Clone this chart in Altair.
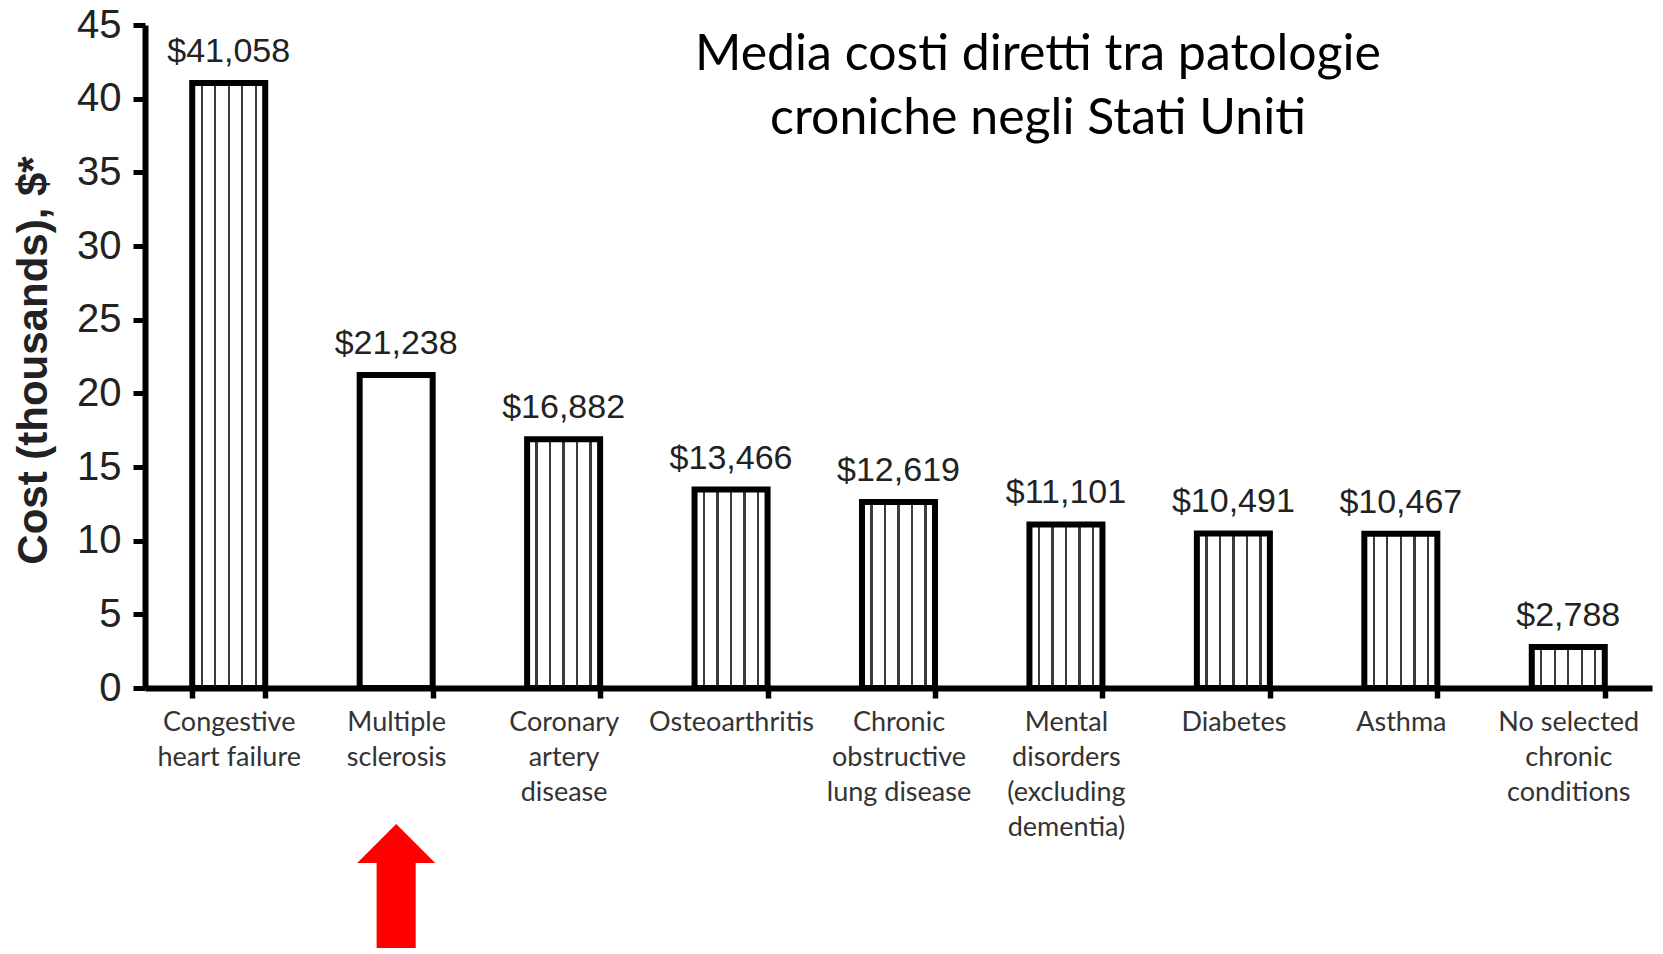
import altair as alt
import pandas as pd

# ---- data ----
categories = [
    "Congestive|heart failure",
    "Multiple|sclerosis",
    "Coronary|artery|disease",
    "Osteoarthritis",
    "Chronic|obstructive|lung disease",
    "Mental|disorders|(excluding|dementia)",
    "Diabetes",
    "Asthma",
    "No selected|chronic|conditions",
]
costs = [41058, 21238, 16882, 13466, 12619, 11101, 10491, 10467, 2788]
highlight = "Multiple|sclerosis"
y_ticks = [0, 5, 10, 15, 20, 25, 30, 35, 40, 45]
title_lines = ["Media costi diretti tra patologie", "croniche negli Stati Uniti"]

df = pd.DataFrame({"category": categories, "cost": costs})

W, H = 1507, 663

# vertical-hatch look via a hard-stop linear gradient
stripe_centers = [0.13, 0.315, 0.5, 0.685, 0.87]
half = 0.016
stops = [alt.GradientStop(offset=0, color="white")]
for c in stripe_centers:
    stops += [
        alt.GradientStop(offset=c - half, color="white"),
        alt.GradientStop(offset=c - half, color="#3a3a3a"),
        alt.GradientStop(offset=c + half, color="#3a3a3a"),
        alt.GradientStop(offset=c + half, color="white"),
    ]
stops.append(alt.GradientStop(offset=1, color="white"))
hatch = alt.LinearGradient(gradient="linear", stops=stops, x1=0, x2=1, y1=0, y2=0)

x_enc = alt.X(
    "category:N",
    sort=categories,
    scale=alt.Scale(paddingInner=0.564, paddingOuter=0.282),
    axis=alt.Axis(
        title=None,
        labelAngle=0,
        labelExpr="split(datum.label, '|')",
        labelFont="Lato",
        labelFontSize=27,
        labelLineHeight=35,
        labelColor="#333333",
        labelPadding=11,
        labelLimit=300,
        tickBand="extent",
        tickSize=10,
        tickWidth=5.5,
        tickColor="black",
        domainWidth=6,
        domainColor="black",
    ),
)

y_enc = alt.Y(
    "k:Q",
    scale=alt.Scale(domain=[0, 45], nice=False, zero=True),
    axis=alt.Axis(
        values=y_ticks,
        title="Cost (thousands), $*",
        titleFont="Liberation Sans",
        titleFontSize=42,
        titleFontWeight="bold",
        titleColor="#222222",
        titleAngle=270,
        titleAlign="center",
        titleBaseline="middle",
        titleX=-112,
        titleY=335,
        labelFont="Liberation Sans",
        labelFontSize=40,
        labelColor="#222222",
        labelPadding=12,
        tickSize=12,
        tickWidth=5,
        tickColor="black",
        domainWidth=6,
        domainColor="black",
        grid=False,
    ),
)

base = alt.Chart(df).transform_calculate(
    k="datum.cost / 1000",
    lab="'$' + format(datum.cost, ',')",
)

bars_hatched = base.transform_filter(alt.datum.category != highlight).mark_bar(
    fill=hatch, stroke="black", strokeWidth=6
).encode(x=x_enc, y=y_enc)

bars_plain = base.transform_filter(alt.datum.category == highlight).mark_bar(
    fill="white", stroke="black", strokeWidth=6
).encode(x=x_enc, y=y_enc)

labels = base.mark_text(
    baseline="alphabetic", dy=-21, font="Liberation Sans", fontSize=34, color="#222222"
).encode(x=x_enc, y=y_enc, text="lab:N")

arrow_path = (
    "M0,-1 L0.629,-0.371 L0.315,-0.371 L0.315,1 L-0.315,1 "
    "L-0.315,-0.371 L-0.629,-0.371 Z"
)
arrow = base.transform_filter(alt.datum.category == highlight).mark_point(
    shape=arrow_path, filled=True, color="#ff0000", opacity=1, size=15376, strokeWidth=0
).encode(x=x_enc, y=alt.value(861))

title = alt.Chart(pd.DataFrame({"t": [0]})).mark_text(
    font="Lato", fontSize=50, lineHeight=64, color="black", align="center", baseline="middle"
).encode(x=alt.value(893), y=alt.value(30), text=alt.value(title_lines))

chart = (
    alt.layer(bars_hatched, bars_plain, labels, arrow, title)
    .properties(
        width=W,
        height=H,
        autosize=alt.AutoSizeParams(type="none"),
        padding={"left": 145, "top": 25, "right": 11, "bottom": 266},
        background="white",
    )
    .configure_view(stroke=None)
)

chart.save("out.html", embed_options={"renderer": "svg", "actions": False})
